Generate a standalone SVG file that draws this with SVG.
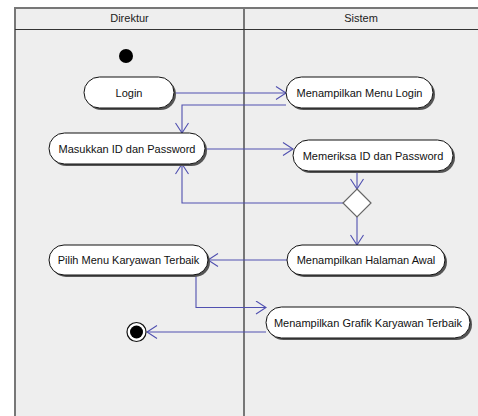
<svg xmlns="http://www.w3.org/2000/svg" width="478" height="416" viewBox="0 0 478 416">
  <style>
    .lane { fill: #eeeeee; }
    .frame { stroke: #777777; stroke-width: 2; fill: none; }
    .hdr { stroke: #333333; stroke-width: 1.2; }
    .title { font-family: "Liberation Sans", Arial, sans-serif; font-size: 11px; fill: #222222; text-anchor: middle; }
    .act { fill: #ffffff; stroke: #111111; stroke-width: 1; }
    .shadow { fill: #555555; }
    .label { font-family: "Liberation Sans", Arial, sans-serif; font-size: 11px; fill: #111111; text-anchor: middle; }
    .flow { fill: none; stroke: #5050b0; stroke-width: 1.1; }
  </style>
  <defs>
    <marker id="open" viewBox="0 0 12 14" refX="11" refY="7" markerWidth="12" markerHeight="14" markerUnits="userSpaceOnUse" orient="auto">
      <path d="M1,0.5 L11,7 L1,13.5" fill="none" stroke="#5050b0" stroke-width="1.1"/>
    </marker>
  </defs>

  <rect width="478" height="416" fill="#ffffff"/>

  <!-- swimlanes -->
  <g id="lanes">
    <rect class="lane" x="15" y="8" width="463" height="408"/>
    <line class="frame" x1="15" y1="8" x2="15" y2="416"/>
    <line class="frame" x1="14" y1="8" x2="478" y2="8"/>
    <line class="frame" x1="244" y1="8" x2="244" y2="416"/>
    <line class="hdr" x1="15" y1="29.5" x2="478" y2="29.5"/>
    <text class="title" x="129.5" y="22">Direktur</text>
    <text class="title" x="361" y="22">Sistem</text>
  </g>

  <!-- connectors -->
  <g id="connectors">
    <path class="flow" d="M174,93 H286" marker-end="url(#open)"/>
    <path class="flow" d="M286,105 H182 V133" marker-end="url(#open)"/>
    <path class="flow" d="M205,149 H293" marker-end="url(#open)"/>
    <path class="flow" d="M357,171 V189" marker-end="url(#open)"/>
    <path class="flow" d="M343,203 H182 V164" marker-end="url(#open)"/>
    <path class="flow" d="M357,217 V245" marker-end="url(#open)"/>
    <path class="flow" d="M287,260 H208" marker-end="url(#open)"/>
    <path class="flow" d="M196,275 V307.5 H266" marker-end="url(#open)"/>
    <path class="flow" d="M266,332 H147" marker-end="url(#open)"/>
  </g>

  <g id="start">
    <circle cx="126" cy="56" r="7" fill="#000000"/>
  </g>

  <g id="login">
    <rect class="shadow" x="86" y="79" width="90" height="31" rx="15.5"/>
    <rect class="act" x="84" y="77" width="90" height="31" rx="15.5"/>
    <text class="label" x="129" y="96.5">Login</text>
  </g>

  <g id="menu-login">
    <rect class="shadow" x="288" y="79" width="147" height="31" rx="15.5"/>
    <rect class="act" x="286" y="77" width="147" height="31" rx="15.5"/>
    <text class="label" x="359.5" y="96.5">Menampilkan Menu Login</text>
  </g>

  <g id="masukkan">
    <rect class="shadow" x="51" y="135" width="156" height="31" rx="15.5"/>
    <rect class="act" x="49" y="133" width="156" height="31" rx="15.5"/>
    <text class="label" x="127" y="152.5">Masukkan ID dan Password</text>
  </g>

  <g id="memeriksa">
    <rect class="shadow" x="295" y="142" width="160" height="31" rx="15.5"/>
    <rect class="act" x="293" y="140" width="160" height="31" rx="15.5"/>
    <text class="label" x="373" y="159.5">Memeriksa ID dan Password</text>
  </g>

  <g id="decision">
    <polygon points="357,189 371,203 357,217 343,203" fill="#ffffff" stroke="#666666" stroke-width="1.2"/>
  </g>

  <g id="pilih-menu">
    <rect class="shadow" x="51" y="247" width="159" height="30" rx="15"/>
    <rect class="act" x="49" y="245" width="159" height="30" rx="15"/>
    <text class="label" x="128.5" y="264">Pilih Menu Karyawan Terbaik</text>
  </g>

  <g id="halaman-awal">
    <rect class="shadow" x="289" y="247" width="158" height="30" rx="15"/>
    <rect class="act" x="287" y="245" width="158" height="30" rx="15"/>
    <text class="label" x="366" y="264">Menampilkan Halaman Awal</text>
  </g>

  <g id="grafik">
    <rect class="shadow" x="268" y="309" width="204" height="31" rx="15.5"/>
    <rect class="act" x="266" y="307" width="204" height="31" rx="15.5"/>
    <text class="label" x="368" y="326.5">Menampilkan Grafik Karyawan Terbaik</text>
  </g>

  <g id="end">
    <circle cx="136.5" cy="332" r="9.5" fill="#ffffff" stroke="#111111" stroke-width="1.2"/>
    <circle cx="136.5" cy="332" r="6.5" fill="#000000"/>
  </g>
</svg>
